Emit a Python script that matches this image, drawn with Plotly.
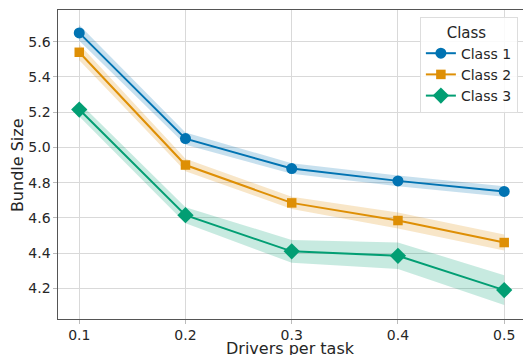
import plotly.graph_objects as go

# Drivers-per-task ratio on the x axis
drivers = [0.1, 0.2, 0.3, 0.4, 0.5]

# Mean bundle size per class
class1 = [5.65, 5.05, 4.88, 4.81, 4.75]
class2 = [5.54, 4.90, 4.685, 4.585, 4.46]
class3 = [5.215, 4.615, 4.41, 4.385, 4.19]

# Half-width of the confidence band per class
class1_err = [0.045, 0.035, 0.03, 0.03, 0.03]
class2_err = [0.045, 0.035, 0.035, 0.045, 0.045]
class3_err = [0.04, 0.045, 0.065, 0.075, 0.085]

names = ["Class 1", "Class 2", "Class 3"]
colors = ["#0173b2", "#de8f05", "#029e73"]
fills = ["rgba(1,115,178,0.22)", "rgba(222,143,5,0.22)", "rgba(2,158,115,0.22)"]
symbols = ["circle", "square", "diamond"]
sizes = [11, 9.5, 12.5]

fig = go.Figure()
for name, ys, err, col, fc, sym, sz in zip(
    names, [class1, class2, class3], [class1_err, class2_err, class3_err],
    colors, fills, symbols, sizes,
):
    upper = [y + e for y, e in zip(ys, err)]
    lower = [y - e for y, e in zip(ys, err)]
    fig.add_trace(go.Scatter(
        x=drivers + drivers[::-1], y=upper + lower[::-1],
        fill="toself", fillcolor=fc, line=dict(width=0),
        mode="lines", hoverinfo="skip", showlegend=False,
    ))
    fig.add_trace(go.Scatter(
        x=drivers, y=ys, name=name, mode="lines+markers",
        line=dict(color=col, width=2),
        marker=dict(symbol=sym, size=sz, color=col),
    ))

font_family = "DejaVu Sans, sans-serif"
fig.update_layout(
    width=523, height=355,
    margin=dict(l=58, r=0, t=10, b=36),
    paper_bgcolor="white", plot_bgcolor="white",
    font=dict(family=font_family, size=14, color="#262626"),
    xaxis=dict(
        range=[0.08, 0.5177], tickvals=drivers, ticktext=["0.1", "0.2", "0.3", "0.4", "0.5"],
        showgrid=True, gridcolor="#d9d9d9", gridwidth=1,
        showline=True, linecolor="#555555", linewidth=1.2, mirror=True,
        ticks="outside", ticklen=3.5, tickcolor="#bbbbbb", tickwidth=1,
        zeroline=False, automargin=False,
        tickfont=dict(size=14),
    ),
    yaxis=dict(
        range=[4.026, 5.78], tickvals=[4.2, 4.4, 4.6, 4.8, 5.0, 5.2, 5.4, 5.6],
        ticktext=["4.2", "4.4", "4.6", "4.8", "5.0", "5.2", "5.4", "5.6"],
        showgrid=True, gridcolor="#d9d9d9", gridwidth=1,
        showline=True, linecolor="#555555", linewidth=1.2, mirror=False,
        ticks="outside", ticklen=3.5, tickcolor="#bbbbbb", tickwidth=1,
        zeroline=False, automargin=False,
        tickfont=dict(size=14),
    ),
    legend=dict(
        title=dict(text="\u00a0\u00a0\u00a0\u00a0\u00a0Class", side="top", font=dict(size=15)),
        x=0.989, xanchor="right", y=0.977, yanchor="top",
        bgcolor="rgba(255,255,255,0.85)", bordercolor="#dddddd", borderwidth=1,
        font=dict(size=14), tracegroupgap=0, itemwidth=30,
    ),
    annotations=[
        dict(text="Drivers per task", xref="paper", yref="paper",
             x=0.5, y=-0.0583, xanchor="center", yanchor="top",
             showarrow=False, font=dict(size=16)),
        dict(text="Bundle Size", xref="paper", yref="paper",
             x=-0.0882, y=0.498, xanchor="center", yanchor="middle",
             textangle=-90, showarrow=False, font=dict(size=16)),
    ],
)

fig.write_html("out.html")
